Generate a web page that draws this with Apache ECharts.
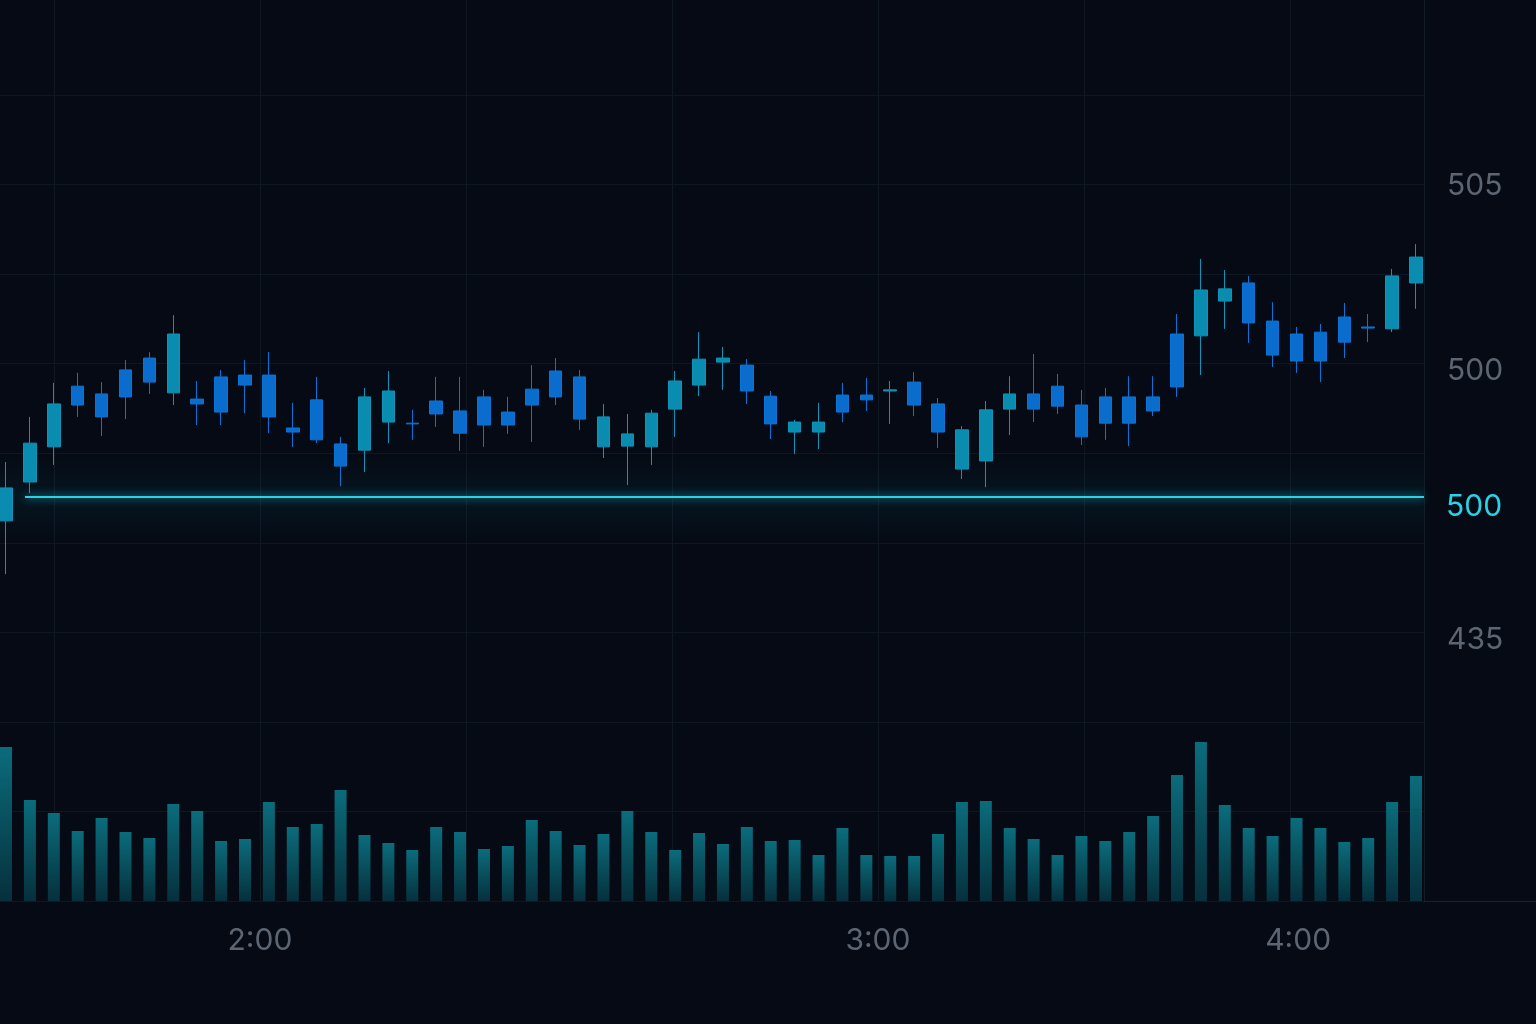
<!DOCTYPE html>
<html style="height: 100%">
<head>
<meta charset="utf-8">
</head>
<body style="height: 100%; margin: 0; background: #050a14">
<div id="container" style="width: 1536px; height: 1024px"></div>
<script src="https://cdn.jsdelivr.net/npm/echarts@6/dist/echarts.min.js"></script>
<script>
// [open, close, low, high]
var candles = [
  [495.95, 496.84, 494.51, 497.54], [497.00, 498.05, 496.70, 498.76], [497.95, 499.11, 497.46, 499.68],
  [499.59, 499.08, 498.76, 499.95], [499.38, 498.76, 498.24, 499.70], [500.03, 499.30, 498.70, 500.30],
  [500.35, 499.70, 499.38, 500.51], [499.41, 501.00, 499.08, 501.51], [499.24, 499.11, 498.54, 499.73],
  [499.84, 498.89, 498.54, 500.03], [499.89, 499.62, 498.86, 500.30], [499.89, 498.76, 498.32, 500.51],
  [498.46, 498.35, 497.95, 499.14], [499.22, 498.14, 498.05, 499.84], [498.03, 497.43, 496.89, 498.22],
  [497.86, 499.30, 497.27, 499.54], [498.62, 499.46, 498.05, 500.00], [498.59, 498.57, 498.14, 498.95],
  [499.19, 498.84, 498.49, 499.84], [498.92, 498.32, 497.84, 499.84], [499.30, 498.54, 497.95, 499.49],
  [498.89, 498.54, 498.30, 499.30], [499.51, 499.08, 498.08, 500.16], [500.00, 499.30, 499.08, 500.35],
  [499.84, 498.70, 498.41, 500.03], [497.95, 498.76, 497.65, 499.11], [497.97, 498.30, 496.92, 498.84],
  [497.95, 498.86, 497.46, 498.95], [498.97, 499.73, 498.22, 500.00], [499.62, 500.32, 499.32, 501.05],
  [500.24, 500.35, 499.49, 500.65], [500.16, 499.46, 499.11, 500.32], [499.32, 498.57, 498.16, 499.46],
  [498.35, 498.62, 497.76, 498.68], [498.35, 498.62, 497.89, 499.14], [499.35, 498.89, 498.62, 499.68],
  [499.35, 499.22, 498.92, 499.81], [499.46, 499.49, 498.57, 499.73], [499.70, 499.08, 498.78, 499.97],
  [499.11, 498.35, 497.92, 499.27], [497.35, 498.41, 497.08, 498.51], [497.57, 498.95, 496.86, 499.19],
  [498.97, 499.38, 498.27, 499.86], [499.38, 498.97, 498.62, 500.46], [499.59, 499.05, 498.84, 499.92],
  [499.08, 498.22, 498.00, 499.49], [499.30, 498.59, 498.14, 499.54], [499.30, 498.59, 497.97, 499.86],
  [499.30, 498.92, 498.78, 499.86], [501.00, 499.57, 499.30, 501.54], [500.95, 502.19, 499.89, 503.03],
  [501.89, 502.22, 501.14, 502.73], [502.38, 501.30, 500.76, 502.57], [501.35, 500.43, 500.11, 501.86],
  [501.00, 500.27, 499.95, 501.19], [501.05, 500.27, 499.70, 501.27], [501.46, 500.78, 500.35, 501.84],
  [501.19, 501.16, 500.78, 501.54], [501.14, 502.57, 501.05, 502.76], [502.38, 503.08, 501.68, 503.43]
];
var volumes = [154, 101, 88, 70, 83, 69, 63, 97, 90, 60, 62, 99, 74, 77, 111, 66, 58, 51, 74, 69,
  52, 55, 81, 70, 56, 67, 90, 69, 51, 68, 57, 74, 60, 61, 46, 73, 46, 45, 45, 67,
  99, 100, 73, 62, 46, 65, 60, 69, 85, 126, 159, 96, 73, 65, 83, 73, 59, 63, 99, 125];
var categories = candles.map(function (c, i) { return i; });
var priceLine = 496.6;
var priceLineLabel = '500';
var priceTicks = [505, 500, 492.73];
var priceTickLabels = ['505', '500', '435'];
var timeGrid = [0, 1, 2, 3, 4, 5, 6];
var timeTicks = [1, 4, 6.04];
var timeTickLabels = ['2:00', '3:00', '4:00'];

var chart = echarts.init(document.getElementById('container'));
var labelStyle = { color: '#5d6573', fontSize: 30, fontFamily: 'Inter, sans-serif' };
var gridLine = { color: '#0f1722', width: 1, type: 'solid' };
var option = {
  backgroundColor: '#050a14',
  animation: false,
  grid: [
    { left: 6, right: 120, top: 0, bottom: 123 },
    { left: 6, right: 120, top: 701, bottom: 123 },
    { left: 0, right: 112, top: 95, bottom: 123 },
    { left: 0, right: 112, top: 0, bottom: 123 }
  ],
  xAxis: [
    { type: 'category', data: categories, boundaryGap: false, gridIndex: 0, axisLine: { show: false }, axisTick: { show: false }, axisLabel: { show: false } },
    { type: 'category', data: categories, boundaryGap: false, gridIndex: 1, axisLine: { show: false }, axisTick: { show: false }, axisLabel: { show: false } },
    { type: 'value', gridIndex: 2, min: 0, max: 1, show: false },
    {
      type: 'value', gridIndex: 3, min: -0.262, max: 6.651,
      axisLine: { show: false }, axisTick: { show: false }, splitLine: { show: false },
      axisLabel: Object.assign({
        customValues: timeTicks, margin: 25,
        formatter: function (v) { return timeTickLabels[timeTicks.indexOf(v)]; }
      }, labelStyle)
    }
  ],
  yAxis: [
    {
      type: 'value', gridIndex: 0, position: 'right', min: 485.676, max: 510.027,
      splitLine: { show: false }, axisLine: { show: false }, axisTick: { show: false },
      axisLabel: Object.assign({
        customValues: priceTicks, margin: 31,
        formatter: function (v) { return priceTickLabels[priceTicks.indexOf(v)]; }
      }, labelStyle)
    },
    { type: 'value', gridIndex: 1, min: 0, max: 200, show: false },
    {
      type: 'value', gridIndex: 2, min: 0, max: 9, interval: 1,
      axisLine: { show: false }, axisTick: { show: false }, axisLabel: { show: false },
      splitLine: { show: true, lineStyle: gridLine }
    },
    { type: 'value', gridIndex: 3, min: 0, max: 1, show: false }
  ],
  series: [
    {
      type: 'line', xAxisIndex: 3, yAxisIndex: 3, data: [], silent: true, z: 0,
      markLine: {
        silent: true, symbol: 'none', label: { show: false }, z: 0,
        lineStyle: gridLine,
        data: timeGrid.map(function (v) { return { xAxis: v }; })
      }
    },
    {
      type: 'bar', xAxisIndex: 1, yAxisIndex: 1, data: volumes, barWidth: 12, z: 3,
      itemStyle: {
        color: new echarts.graphic.LinearGradient(0, 0, 0, 1, [
          { offset: 0, color: '#0b6c7c' }, { offset: 1, color: '#06303c' }
        ])
      }
    },
    {
      type: 'candlestick', xAxisIndex: 0, yAxisIndex: 0, data: candles, barWidth: 13, z: 4,
      itemStyle: {
        color: '#0a8bb0', color0: '#0a6ccc',
        borderColor: '#0c95b8', borderColor0: '#0a74d6', borderWidth: 1
      },
      markArea: {
        silent: true,
        itemStyle: {
          color: new echarts.graphic.LinearGradient(0, 0, 0, 1, [
            { offset: 0, color: 'rgba(0,200,220,0.0)' },
            { offset: 0.5, color: 'rgba(0,200,220,0.06)' },
            { offset: 1, color: 'rgba(0,200,220,0.0)' }
          ])
        },
        data: [[{ yAxis: 495.35, x: 0 }, { yAxis: 497.8, x: 1424 }]]
      },
      markLine: {
        silent: true, symbol: 'none',
        lineStyle: { color: '#27d3e6', width: 2, type: 'solid', shadowBlur: 8, shadowColor: '#19c6dc' },
        label: { position: 'end', distance: 22, formatter: priceLineLabel, color: '#27d3e6', fontSize: 30, fontFamily: 'Inter, sans-serif', offset: [0, 10] },
        data: [[{ coord: [1, priceLine], x: 25 }, { coord: [59, priceLine], x: 1424 }]]
      }
    }
  ],
  graphic: [
    { type: 'line', shape: { x1: 1424.5, y1: 0, x2: 1424.5, y2: 901 }, style: { stroke: '#141c27', lineWidth: 1 } },
    { type: 'line', shape: { x1: 0, y1: 901.5, x2: 1536, y2: 901.5 }, style: { stroke: '#1a222d', lineWidth: 1 } }
  ]
};
chart.setOption(option);
</script>
</body>
</html>
